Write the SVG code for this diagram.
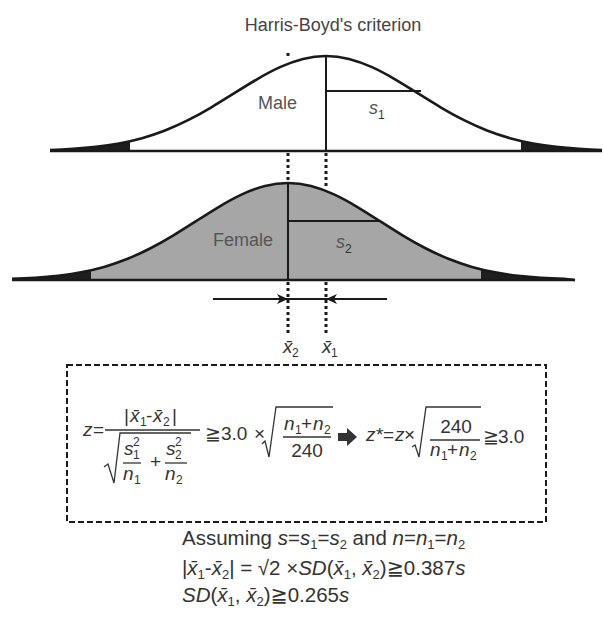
<svg xmlns="http://www.w3.org/2000/svg" width="603" height="622" viewBox="0 0 603 622">
<style>
text{font-family:"Liberation Sans",Arial,"DejaVu Sans",sans-serif;fill:#333}
.t{font-size:18px;fill:#444}
.lbl{font-size:18px;fill:#555}
.i{font-style:italic}
.m{font-size:19px}
.sub{font-size:12px}
.big{font-size:20.5px}
.sb{font-size:13px}
.curve{fill:none;stroke:#1a1a1a;stroke-width:2.6}
.base{stroke:#1a1a1a;stroke-width:2.6}
.ln{stroke:#1a1a1a;stroke-width:2;fill:none}
.dot{stroke:#1a1a1a;stroke-width:3;stroke-dasharray:3 3;fill:none}
.box{fill:none;stroke:#1a1a1a;stroke-width:2;stroke-dasharray:6 3}
.bar{stroke:#333;stroke-width:1.3}
.rad{fill:none;stroke:#333;stroke-width:1.3}
.tail{fill:#1e1e1e}
</style>
<defs>
<clipPath id="cu"><rect x="130" y="40" width="391" height="115"/></clipPath>
<clipPath id="cl"><rect x="91" y="170" width="390" height="115"/></clipPath>
<path id="uarea" d="M50,151 L50,149.95 C57.67,149.69 65.33,149.33 73,148.83 S88.33,147.70 96,146.83 S111.33,144.86 119,143.44 S134.33,140.29 142,138.15 S157.33,133.45 165,130.45 S180.33,124.01 188,120.15 S203.33,112.04 211,107.51 S226.33,98.18 234,93.38 S249.33,83.77 257,79.29 S272.33,70.65 280,67.16 S295.33,60.85 303,58.93 S318.33,56 326,56 S341.33,57.01 349,58.93 S364.33,63.67 372,67.16 S387.33,74.81 395,79.29 S410.33,88.58 418,93.38 S433.33,102.98 441,107.51 S456.33,116.29 464,120.15 S479.33,127.45 487,130.45 S502.33,136.01 510,138.15 S525.33,142.02 533,143.44 S548.33,145.96 556,146.83 S571.33,148.33 579,148.83 S594.33,149.69 602,149.95 L602,151 Z"/>
<path id="ucurve" d="M50,149.95 C57.67,149.69 65.33,149.33 73,148.83 S88.33,147.70 96,146.83 S111.33,144.86 119,143.44 S134.33,140.29 142,138.15 S157.33,133.45 165,130.45 S180.33,124.01 188,120.15 S203.33,112.04 211,107.51 S226.33,98.18 234,93.38 S249.33,83.77 257,79.29 S272.33,70.65 280,67.16 S295.33,60.85 303,58.93 S318.33,56 326,56 S341.33,57.01 349,58.93 S364.33,63.67 372,67.16 S387.33,74.81 395,79.29 S410.33,88.58 418,93.38 S433.33,102.98 441,107.51 S456.33,116.29 464,120.15 S479.33,127.45 487,130.45 S502.33,136.01 510,138.15 S525.33,142.02 533,143.44 S548.33,145.96 556,146.83 S571.33,148.33 579,148.83 S594.33,149.69 602,149.95"/>
<path id="larea" d="M12,280 L12,278.92 C19.67,278.65 27.33,278.30 35,277.79 S50.33,276.63 58,275.74 S73.33,273.73 81,272.28 S96.33,269.07 104,266.88 S119.33,262.08 127,259.02 S142.33,252.44 150,248.50 S165.33,240.22 173,235.59 S188.33,226.07 196,221.17 S211.33,211.36 219,206.78 S234.33,197.97 242,194.40 S257.33,187.95 265,185.99 S280.33,183 288,183 S303.33,184.03 311,185.99 S326.33,190.83 334,194.40 S349.33,202.20 357,206.78 S372.33,216.27 380,221.17 S395.33,230.96 403,235.59 S418.33,244.56 426,248.50 S441.33,255.96 449,259.02 S464.33,264.69 472,266.88 S487.33,270.83 495,272.28 S510.33,274.85 518,275.74 S533.33,277.28 541,277.79 S556.33,278.65 564,278.92 L575,280 Z"/>
<path id="lcurve" d="M12,278.92 C19.67,278.65 27.33,278.30 35,277.79 S50.33,276.63 58,275.74 S73.33,273.73 81,272.28 S96.33,269.07 104,266.88 S119.33,262.08 127,259.02 S142.33,252.44 150,248.50 S165.33,240.22 173,235.59 S188.33,226.07 196,221.17 S211.33,211.36 219,206.78 S234.33,197.97 242,194.40 S257.33,187.95 265,185.99 S280.33,183 288,183 S303.33,184.03 311,185.99 S326.33,190.83 334,194.40 S349.33,202.20 357,206.78 S372.33,216.27 380,221.17 S395.33,230.96 403,235.59 S418.33,244.56 426,248.50 S441.33,255.96 449,259.02 S464.33,264.69 472,266.88 S487.33,270.83 495,272.28 S510.33,274.85 518,275.74 S533.33,277.28 541,277.79 S556.33,278.65 564,278.92 L575,280"/>
</defs>

<g id="title"><text class="t" x="333" y="31" text-anchor="middle">Harris-Boyd's criterion</text></g>

<g id="male">
<use href="#uarea" class="tail"/>
<use href="#uarea" fill="#fff" clip-path="url(#cu)"/>
<use href="#ucurve" class="curve"/>
<line class="base" x1="50" y1="151" x2="602" y2="151"/>
<line class="ln" x1="326" y1="56" x2="326" y2="151"/>
<line class="ln" x1="326" y1="91" x2="421" y2="91"/>
<text class="lbl" x="258" y="109">Male</text>
<text class="lbl i" x="369" y="114">s</text><text class="sub" x="378" y="119" fill="#555">1</text>
</g>

<g id="female">
<use href="#larea" class="tail"/>
<use href="#larea" fill="#a6a6a6" clip-path="url(#cl)"/>
<use href="#lcurve" class="curve"/>
<line class="base" x1="12" y1="280" x2="575" y2="280"/>
<line class="ln" x1="288" y1="183" x2="288" y2="280"/>
<line class="ln" x1="288" y1="221" x2="380" y2="221"/>
<text class="lbl" x="213" y="246">Female</text>
<text class="lbl i" x="336" y="248">s</text><text class="sub" x="345" y="253" fill="#555">2</text>
</g>

<g id="connectors">
<rect x="286.5" y="53" width="3" height="3" fill="#1a1a1a"/>
<line class="dot" x1="288" y1="153" x2="288" y2="183"/>
<line class="dot" x1="326" y1="153" x2="326" y2="189"/>
<line class="dot" x1="288" y1="282" x2="288" y2="334"/>
<line class="dot" x1="326" y1="282" x2="326" y2="334"/>
<line class="ln" x1="213" y1="299" x2="387" y2="299"/>
<polygon points="288,299 277,294 280,299 277,304" fill="#1a1a1a"/>
<polygon points="326,299 337,294 334,299 337,304" fill="#1a1a1a"/>
</g>

<g id="means">
<text class="m i" x="283" y="353">x̄</text><text class="sub" x="292" y="357">2</text>
<text class="m i" x="322" y="353">x̄</text><text class="sub" x="331" y="357">1</text>
</g>

<g id="formula-box">
<rect class="box" x="67" y="365" width="479" height="157"/>
<text class="m i" x="83" y="436">z</text><text class="m" x="93" y="436">=</text>
<line class="bar" x1="105" y1="430" x2="200" y2="430"/>
<text class="m" x="124" y="422">|</text>
<text class="m i" x="130" y="422">x̄</text><text class="sub" x="140" y="426">1</text>
<text class="m" x="146" y="422">-</text>
<text class="m i" x="153" y="422">x̄</text><text class="sub" x="163" y="426">2</text>
<text class="m" x="172" y="422">|</text>
<path class="rad" d="M104,467 L108,464 L114,483 L120,433 L191,433"/>
<text class="m i" x="124" y="455">s</text><text class="sub" x="133" y="446">2</text><text class="sub" x="133" y="459">1</text>
<line class="bar" x1="123" y1="463" x2="141" y2="463"/>
<text class="m i" x="123" y="480">n</text><text class="sub" x="134" y="484">1</text>
<text class="m" x="150" y="468">+</text>
<text class="m i" x="166" y="455">s</text><text class="sub" x="175" y="446">2</text><text class="sub" x="175" y="459">2</text>
<line class="bar" x1="165" y1="463" x2="187" y2="463"/>
<text class="m i" x="165" y="480">n</text><text class="sub" x="176" y="484">2</text>
<text class="m" x="205" y="440">≧</text><text class="m" x="221" y="440">3.0</text><text class="m" x="254" y="440">×</text>
<path class="rad" d="M262,444 L265,441 L269,457 L276,407 L333,407"/>
<text class="m i" x="284" y="430">n</text><text class="sub" x="295" y="434">1</text><text class="m" x="301" y="430">+</text><text class="m i" x="313" y="430">n</text><text class="sub" x="324" y="434">2</text>
<line class="bar" x1="283" y1="437" x2="331" y2="437"/>
<text class="m" x="307" y="457" text-anchor="middle">240</text>
<polygon points="338,433 347,433 347,428 357,437 347,446 347,441 338,441" fill="#333"/>
<text class="m i" x="366" y="441">z</text><text class="m" x="376" y="441">*</text><text class="m" x="383" y="441">=</text><text class="m i" x="395" y="441">z</text><text class="m" x="404" y="441">×</text>
<path class="rad" d="M412,447 L415,445 L419,457 L426,407 L481,407"/>
<text class="m" x="456" y="433" text-anchor="middle">240</text>
<line class="bar" x1="430" y1="440" x2="480" y2="440"/>
<text class="m i" x="430" y="456">n</text><text class="sub" x="441" y="460">1</text><text class="m" x="447" y="456">+</text><text class="m i" x="459" y="456">n</text><text class="sub" x="470" y="460">2</text>
<text class="m" x="483" y="443">≧</text><text class="m" x="498" y="443">3.0</text>
</g>

<g id="assumptions">
<text class="big" x="182" y="545">Assuming <tspan class="i">s</tspan>=<tspan class="i">s</tspan><tspan class="sb" dy="4">1</tspan><tspan dy="-4">=</tspan><tspan class="i">s</tspan><tspan class="sb" dy="4">2</tspan><tspan dy="-4"> and </tspan><tspan class="i">n</tspan>=<tspan class="i">n</tspan><tspan class="sb" dy="4">1</tspan><tspan dy="-4">=</tspan><tspan class="i">n</tspan><tspan class="sb" dy="4">2</tspan></text>
<text class="big" x="182" y="575">|<tspan class="i">x̄</tspan><tspan class="sb" dy="4">1</tspan><tspan dy="-4">-</tspan><tspan class="i">x̄</tspan><tspan class="sb" dy="4">2</tspan><tspan dy="-4">| = √2 ×</tspan><tspan class="i">SD</tspan>(<tspan class="i">x̄</tspan><tspan class="sb" dy="4">1</tspan><tspan dy="-4">, </tspan><tspan class="i">x̄</tspan><tspan class="sb" dy="4">2</tspan><tspan dy="-4">)≧0.387</tspan><tspan class="i">s</tspan></text>
<text class="big" x="182" y="602"><tspan class="i">SD</tspan>(<tspan class="i">x̄</tspan><tspan class="sb" dy="4">1</tspan><tspan dy="-4">, </tspan><tspan class="i">x̄</tspan><tspan class="sb" dy="4">2</tspan><tspan dy="-4">)≧0.265</tspan><tspan class="i">s</tspan></text>
</g>
</svg>
